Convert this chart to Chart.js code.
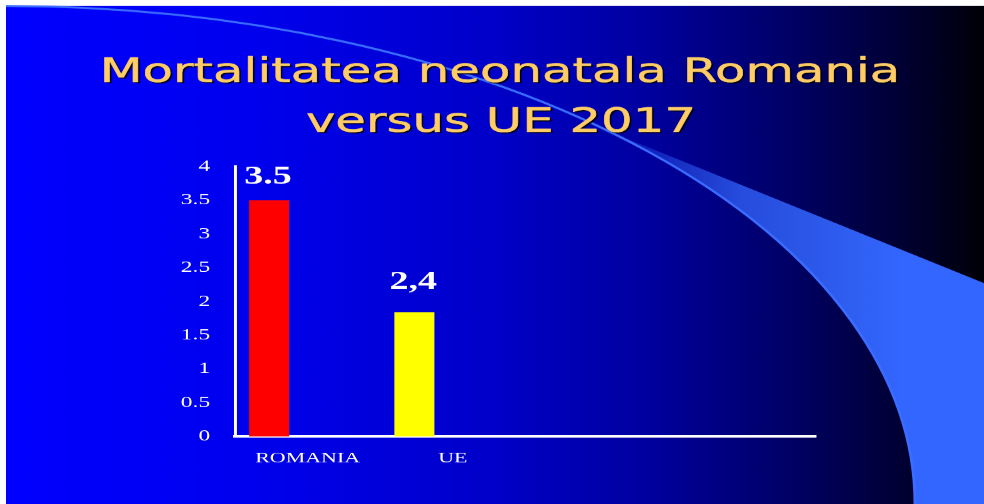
<!DOCTYPE html>
<html><head><meta charset="utf-8">
<script src="https://cdn.jsdelivr.net/npm/chart.js@4/dist/chart.umd.min.js"></script>
<style>
html,body{margin:0;padding:0;background:#fff;overflow:hidden;width:984px;height:504px;}
#wrap{position:absolute;left:0;top:0;width:672px;height:504px;transform:scaleX(1.4642857);transform-origin:0 0;}
canvas{display:block;}
</style></head><body>
<div id="wrap"><canvas id="c" width="672" height="504"></canvas></div>
<script>
// ---- data ----
const titleLines = ['Mortalitatea neonatala Romania', 'versus UE 2017'];
const categories = ['ROMANIA', 'UE', '', ''];
const values = [3.5, 1.84, null, null];
const valueLabels = ['3.5', '2,4'];
const barColors = ['#ff0000', '#ffff00'];
const yTickLabels = ['0', '0.5', '1', '1.5', '2', '2.5', '3', '3.5', '4'];

// ---- layout (slide is a 4:3 page stretched horizontally) ----
const SX = 984 / 672;
const R = v => v / SX; // reference px -> chart units (horizontal)

const slidePlugin = {
  id: 'slide',
  beforeDraw(chart) {
    const ctx = chart.ctx, W = chart.width, H = chart.height;
    ctx.save();
    ctx.fillStyle = '#ffffff';
    ctx.fillRect(0, 0, W, H);
    const L = R(6), T = 6;
    const g = ctx.createLinearGradient(L, 0, W, 0);
    g.addColorStop(0, '#0000ff');
    g.addColorStop(0.25, '#0000ee');
    g.addColorStop(0.5, '#0000c8');
    g.addColorStop(0.66, '#00009e');
    g.addColorStop(0.81, '#000062');
    g.addColorStop(0.91, '#000036');
    g.addColorStop(1, '#000008');
    ctx.fillStyle = g;
    ctx.fillRect(L, T, W - L, H - T);

    // swoosh
    const cx = L, cy = 504, rx = R(909), ry = 498;
    const th0 = -Math.acos((R(610) - cx) / rx);
    const wg = ctx.createLinearGradient(R(610), 0, R(900), 0);
    wg.addColorStop(0, 'rgba(51,102,255,0.15)');
    wg.addColorStop(0.45, 'rgba(51,102,255,0.75)');
    wg.addColorStop(1, 'rgba(51,102,255,1)');
    ctx.beginPath();
    ctx.moveTo(cx + rx * Math.cos(th0), cy + ry * Math.sin(th0));
    ctx.lineTo(W, 283);
    ctx.lineTo(W, H);
    ctx.lineTo(cx + rx, cy);
    ctx.ellipse(cx, cy, rx, ry, 0, 0, th0, true);
    ctx.closePath();
    ctx.fillStyle = wg;
    ctx.fill();
    ctx.beginPath();
    ctx.ellipse(cx, cy, rx, ry, 0, -Math.PI / 2, 0, false);
    ctx.strokeStyle = '#3a6cff';
    ctx.lineWidth = 2;
    ctx.stroke();

    // title
    ctx.font = '34px "DejaVu Sans"';
    ctx.textAlign = 'center';
    ctx.textBaseline = 'alphabetic';
    ctx.shadowColor = 'rgba(0,0,0,0.85)';
    ctx.shadowOffsetX = 2;
    ctx.shadowOffsetY = 2;
    ctx.shadowBlur = 1;
    ctx.fillStyle = '#ffcc66';
    ctx.strokeStyle = '#ffcc66';
    ctx.lineWidth = 0.45;
    ctx.lineJoin = 'round';
    ctx.fillText(titleLines[0], R(500), 82);
    ctx.fillText(titleLines[1], R(501), 132);
    ctx.shadowColor = 'rgba(0,0,0,0)';
    ctx.strokeText(titleLines[0], R(500), 82);
    ctx.strokeText(titleLines[1], R(501), 132);
    ctx.restore();
  }
};

const valueLabelPlugin = {
  id: 'valueLabels',
  afterDatasetsDraw(chart) {
    const ctx = chart.ctx;
    const meta = chart.getDatasetMeta(0);
    const gaps = [16.5, 23.5];
    ctx.save();
    ctx.font = 'bold 26px "Liberation Serif"';
    ctx.fillStyle = '#ffffff';
    ctx.textAlign = 'center';
    ctx.textBaseline = 'alphabetic';
    meta.data.forEach((bar, i) => {
      if (!valueLabels[i]) return;
      ctx.fillText(valueLabels[i], bar.x - 0.8, bar.y - gaps[i]);
    });
    ctx.restore();
  }
};

new Chart(document.getElementById('c'), {
  type: 'bar',
  data: {
    labels: categories,
    datasets: [
      { data: values, backgroundColor: barColors, borderWidth: 0,
        categoryPercentage: 1.06, barPercentage: 0.52 },
      { data: [null, null, null, null], backgroundColor: 'rgba(0,0,0,0)', borderWidth: 0,
        categoryPercentage: 1.06, barPercentage: 0.52 }
    ]
  },
  options: {
    responsive: false,
    devicePixelRatio: SX,
    animation: false,
    events: [],
    layout: { padding: { left: 0, right: 672 - R(816), top: 166.5, bottom: 0 } },
    plugins: { legend: { display: false }, tooltip: { enabled: false }, title: { display: false } },
    scales: {
      x: {
        type: 'category',
        grid: { display: false, drawTicks: false },
        border: { display: true, color: '#ffffff', width: 2.5 },
        ticks: { color: '#ffffff', font: { family: 'Liberation Serif', size: 15 }, padding: 13,
                 autoSkip: false, maxRotation: 0 },
        afterFit(s) { s.height = 67.5; }
      },
      y: {
        min: 0, max: 4,
        grid: { display: false, drawTicks: false },
        border: { display: true, color: '#ffffff', width: 2 },
        ticks: { stepSize: 0.5, color: '#ffffff', font: { family: 'Liberation Serif', size: 16 }, padding: 17,
                 callback: v => yTickLabels[Math.round(v * 2)] },
        afterFit(s) { s.width = R(235); }
      }
    }
  },
  plugins: [slidePlugin, valueLabelPlugin]
});
</script>
</body></html>
